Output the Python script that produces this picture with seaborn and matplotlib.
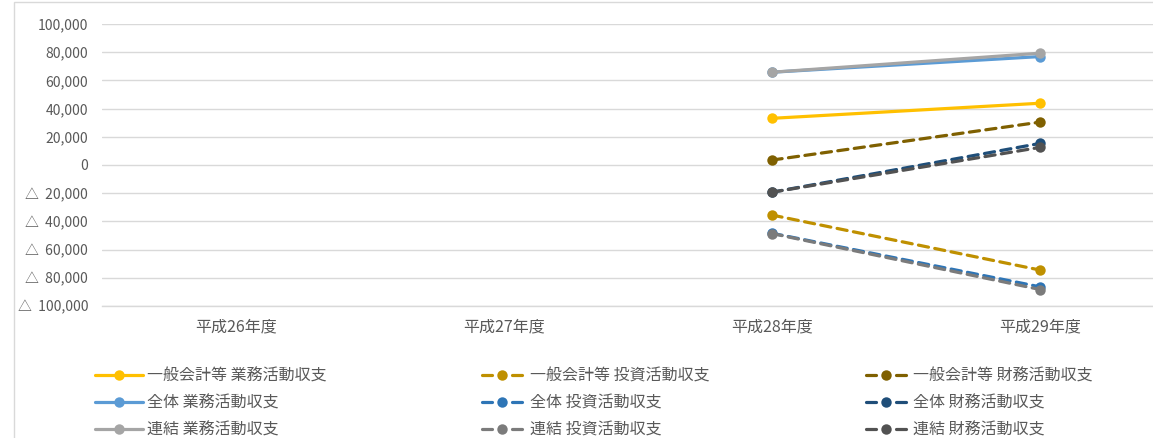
import numpy as np
import pandas as pd
import matplotlib
matplotlib.use("Agg")
import matplotlib.pyplot as plt
from matplotlib.patches import Rectangle
from matplotlib.ticker import FuncFormatter, MultipleLocator
import seaborn as sns

# ---- data ----
years = ["平成26年度", "平成27年度", "平成28年度", "平成29年度"]
series_names = [
    "一般会計等 業務活動収支", "全体 業務活動収支", "連結 業務活動収支",
    "一般会計等 投資活動収支", "全体 投資活動収支", "連結 投資活動収支",
    "一般会計等 財務活動収支", "全体 財務活動収支", "連結 財務活動収支",
]
ippan_gyomu = [np.nan, np.nan, 33100, 43800]
zentai_gyomu = [np.nan, np.nan, 65800, 76900]
renketsu_gyomu = [np.nan, np.nan, 65800, 79300]
ippan_toshi = [np.nan, np.nan, -35500, -74500]
zentai_toshi = [np.nan, np.nan, -48400, -86400]
renketsu_toshi = [np.nan, np.nan, -48600, -88300]
ippan_zaimu = [np.nan, np.nan, 3500, 30400]
zentai_zaimu = [np.nan, np.nan, -19300, 15300]
renketsu_zaimu = [np.nan, np.nan, -19300, 12500]
values = [ippan_gyomu, zentai_gyomu, renketsu_gyomu,
          ippan_toshi, zentai_toshi, renketsu_toshi,
          ippan_zaimu, zentai_zaimu, renketsu_zaimu]

colors = ["#FFC000", "#5B9BD5", "#A5A5A5",
          "#BF9000", "#2E75B6", "#7B7B7B",
          "#7F6000", "#1F4E79", "#525252"]
solid = [True, True, True, False, False, False, False, False, False]

rows = []
for name, vals in zip(series_names, values):
    for i, v in enumerate(vals):
        rows.append({"x": i, "year": years[i], "series": name, "value": v})
df = pd.DataFrame(rows)

sns.set_theme(style="white")
plt.rcParams["font.family"] = ["Noto Sans CJK JP", "DejaVu Sans"]

fig = plt.figure(figsize=(11.53, 4.38), dpi=100)
ax = fig.add_axes([102 / 1153, 1 - 306 / 438, 1072 / 1153, 282 / 438])

palette = dict(zip(series_names, colors))
dashes = {n: ("" if s else (3.2, 2.0)) for n, s in zip(series_names, solid)}
markers = {n: "o" for n in series_names}

LW = 2.3
sns.lineplot(data=df.dropna(), x="x", y="value", hue="series", style="series",
             hue_order=series_names, style_order=series_names,
             palette=palette, dashes=dashes, markers=markers,
             markersize=7.5, markeredgewidth=0, linewidth=LW,
             ax=ax, legend=True)
for ln in ax.lines:
    ln.set_dash_capstyle("round")
    ln.set_solid_capstyle("round")

ax.set_xlim(-0.5, 3.5)
ax.set_ylim(-100000, 100000)
ax.yaxis.set_major_locator(MultipleLocator(20000))

def fmt(v, pos):
    if v < 0:
        return "△  {:,.0f}".format(-v)
    return "{:,.0f}".format(v)

ax.yaxis.set_major_formatter(FuncFormatter(fmt))
ax.set_xticks(range(len(years)))
ax.set_xticklabels(years)
ax.grid(axis="y", color="#D9D9D9", linewidth=1)
ax.set_axisbelow(True)
for s in ["top", "right", "left"]:
    ax.spines[s].set_visible(False)
ax.spines["bottom"].set_color("#D9D9D9")
ax.spines["bottom"].set_linewidth(1)
ax.tick_params(axis="y", length=0, pad=10, labelsize=10, labelcolor="#595959")
ax.tick_params(axis="x", length=0, pad=9, labelsize=11.5, labelcolor="#595959")
ax.set_xlabel("")
ax.set_ylabel("")

handles, labels = ax.get_legend_handles_labels()
leg = ax.legend(handles, labels, loc="upper left",
                bbox_to_anchor=(95 / 1153, 1 - 368 / 438), bbox_transform=fig.transFigure,
                ncol=3, frameon=False, fontsize=11.5, labelcolor="#595959",
                handlelength=3.0, handletextpad=0.25, columnspacing=9.5,
                labelspacing=0.6, borderaxespad=0, borderpad=0)

# legend handle style: dash - marker - dash for dashed series
px_per_lw = LW * 100 / 72
for legline, is_solid in zip(leg.get_lines(), solid):
    legline.set_solid_capstyle("round")
    legline.set_dash_capstyle("round")
    if not is_solid:
        on, off, start = 10.0, 20.0, 4.0
        legline.set_linestyle(((on + off - start) / px_per_lw,
                               (on / px_per_lw, off / px_per_lw)))

fig.patches.append(Rectangle((14 / 1153, -0.1), 2.0, 1.1 - 2 / 438,
                             transform=fig.transFigure, fill=False,
                             edgecolor="#D9D9D9", linewidth=1))

fig.savefig("out.png", dpi=100)
